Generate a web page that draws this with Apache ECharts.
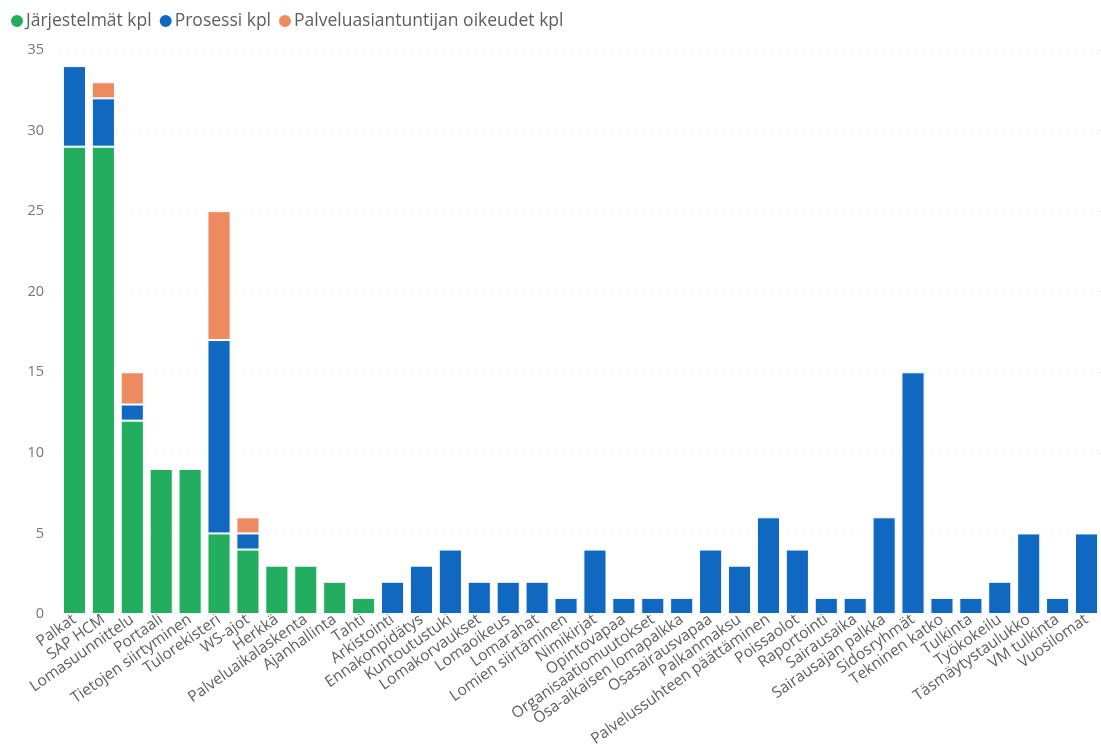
<!DOCTYPE html>
<html>
<head>
<meta charset="utf-8">
<script src="https://cdn.jsdelivr.net/npm/echarts@6/dist/echarts.min.js"></script>
<style>
  html, body { margin: 0; padding: 0; background: #fff; }
  #chart { width: 1101px; height: 751px; }
</style>
</head>
<body>
<div id="chart"></div>
<script>
const categories = [
    'Palkat', 'SAP HCM', 'Lomasuunnittelu', 'Portaali', 'Tietojen siirtyminen',
    'Tulorekisteri', 'WS-ajot', 'Herkkä', 'Palveluaikalaskenta', 'Ajanhallinta',
    'Tahti', 'Arkistointi', 'Ennakonpidätys', 'Kuntoutustuki', 'Lomakorvaukset',
    'Lomaoikeus', 'Lomarahat', 'Lomien siirtäminen', 'Nimikirjat', 'Opintovapaa',
    'Organisaatiomuutokset', 'Osa-aikaisen lomapalkka', 'Osasairausvapaa', 'Palkanmaksu',
    'Palvelussuhteen päättäminen', 'Poissaolot', 'Raportointi', 'Sairausaika',
    'Sairausajan palkka', 'Sidosryhmät', 'Tekninen katko', 'Tulkinta', 'Työkokeilu',
    'Täsmäytystaulukko', 'VM tulkinta', 'Vuosilomat'
];

const jarjestelmat = [29, 29, 12, 9, 9, 5, 4, 3, 3, 2, 1,
    null, null, null, null, null, null, null, null, null, null, null, null, null,
    null, null, null, null, null, null, null, null, null, null, null, null];

const prosessi = [5, 3, 1, null, null, 12, 1, null, null, null, null,
    2, 3, 4, 2, 2, 2, 1, 4, 1, 1, 1, 4, 3,
    6, 4, 1, 1, 6, 15, 1, 1, 2, 5, 1, 5];

const palveluasiantuntija = [null, 1, 2, null, null, 8, 1, null, null, null, null,
    null, null, null, null, null, null, null, null, null, null, null, null, null,
    null, null, null, null, null, null, null, null, null, null, null, null];

const seriesNames = ['Järjestelmät kpl', 'Prosessi kpl', 'Palveluasiantuntijan oikeudet kpl'];
const seriesColors = ['#23AE5F', '#1068C1', '#EC8A60'];

const chart = echarts.init(document.getElementById('chart'));

const font = '"Open Sans", "Noto Sans", sans-serif';

const makeSeries = (name, data, color) => ({
    name: name,
    type: 'bar',
    stack: 'total',
    data: data,
    barCategoryGap: '20%',
    itemStyle: { color: color, borderColor: '#ffffff', borderWidth: 1 }
});

chart.setOption({
    animation: false,
    textStyle: { fontFamily: font },
    color: seriesColors,
    legend: {
        left: 4,
        top: 7,
        itemWidth: 14,
        itemHeight: 14,
        itemGap: 6,
        icon: 'circle',
        textStyle: { color: '#605E5C', fontSize: 17.5, fontFamily: font, padding: [0, 0, 0, -3] },
        data: seriesNames
    },
    grid: { left: 60, right: 0, top: 50, bottom: 137 },
    xAxis: {
        type: 'category',
        data: categories,
        axisLine: { show: false },
        axisTick: { show: false },
        axisLabel: {
            interval: 0,
            rotate: 35,
            color: '#605E5C',
            fontSize: 15.5,
            margin: 4,
            fontFamily: font
        }
    },
    yAxis: {
        type: 'value',
        min: 0,
        max: 35,
        interval: 5,
        axisLabel: { color: '#777777', fontSize: 14.5, margin: 16, fontFamily: font },
        splitLine: { lineStyle: { color: '#E0E0E0', type: [1, 7], width: 1 } }
    },
    series: [
        makeSeries(seriesNames[0], jarjestelmat, seriesColors[0]),
        makeSeries(seriesNames[1], prosessi, seriesColors[1]),
        makeSeries(seriesNames[2], palveluasiantuntija, seriesColors[2])
    ]
});
</script>
</body>
</html>
